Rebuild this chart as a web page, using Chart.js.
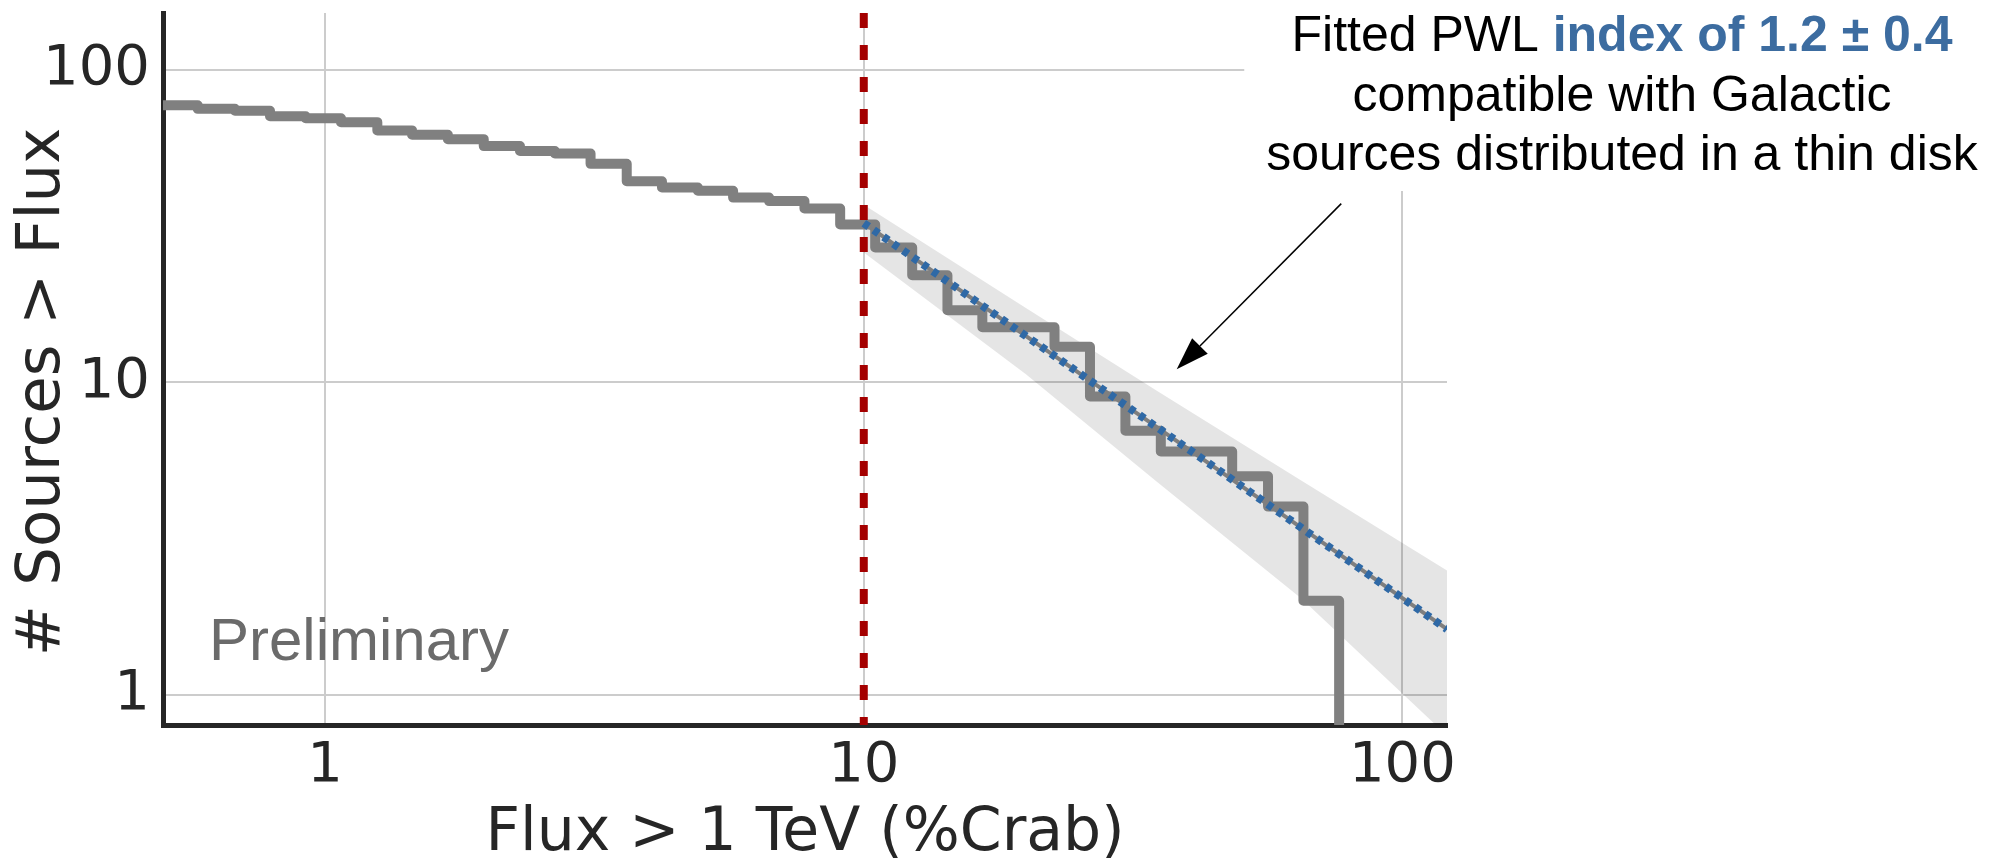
<!DOCTYPE html>
<html>
<head>
<meta charset="utf-8">
<script src="https://cdn.jsdelivr.net/npm/chart.js@4.4.1/dist/chart.umd.min.js"></script>
<style>
  html, body { margin: 0; padding: 0; background: #fff; }
  canvas { display: block; }
</style>
</head>
<body>
<canvas id="logN" width="2001" height="861"></canvas>
<script>
// logN-logS: left edges of the flux bins (% Crab) and number of sources above each edge
const binEdges = [0.5, 0.58, 0.68, 0.79, 0.92, 1.07, 1.25, 1.45, 1.69, 1.97, 2.3, 2.67,
  3.11, 3.63, 4.22, 4.92, 5.72, 6.67, 7.76, 9.04, 10.5, 12.3, 14.3, 16.6, 19.4, 22.6,
  26.3, 30.6, 35.6, 41.5, 48.3, 56.3, 65.5, 76.3];
const countsAbove = [77, 75, 74, 71, 70, 68, 64, 62, 60, 57, 55, 54, 50, 44, 42, 41, 39,
  38, 36, 32, 27, 22, 17, 15, 15, 13, 9, 7, 6, 6, 5, 4, 2, 0];

// power-law fit above the completeness threshold
const fitStart = 10;
const fitIndex = 1.2;
const fitNorm = 32.3;

// 1 sigma band of the fit
const bandFlux = [10, 20, 35, 65, 121];
const bandUpper = [37, 17.3, 9.4, 4.84, 2.5];
const bandLower = [26, 10.6, 4.8, 2.03, 0.74];

const xRange = [0.5, 121];
const yRange = [0.8, 152];
const xTicks = [1, 10, 100];
const yTicks = [1, 10, 100];

const ink = '#262626';
const noteBlue = '#3c6ca0';

const fitPoints = [fitStart, xRange[1]].map(f => ({ x: f, y: fitNorm * Math.pow(f / fitStart, -fitIndex) }));
// empty bins can't sit on a log axis, they drop to the axis floor
const steps = binEdges.map((x, i) => ({ x, y: Math.max(countsAbove[i], yRange[0]) }));

// text block + arrow on the right, "Preliminary" tag and the y title
const noteLines = [
  [{ text: 'Fitted PWL ' }, { text: 'index of 1.2 \u00b1 0.4', bold: true, color: noteBlue }],
  [{ text: 'compatible with Galactic' }],
  [{ text: 'sources distributed in a thin disk' }]
];
const noteCenterX = 1622;
const noteFirstBaseline = 51;
const noteLeading = 59.5;
const noteFont = '"Liberation Sans", Arial, sans-serif';
const arrowFrom = { x: 77, y: 37.3 };
const arrowTo = { x: 38.1, y: 11.0 };

function partFont(p) {
  return (p.bold ? 'bold ' : '') + '50px ' + noteFont;
}

function lineWidth(ctx, parts) {
  return parts.reduce((w, p) => { ctx.font = partFont(p); return w + ctx.measureText(p.text).width; }, 0);
}

const annotations = {
  id: 'annotations',
  beforeDatasetsDraw(chart) {
    // the note sits on a white box that hides the grid behind it
    const ctx = chart.ctx;
    const widest = Math.max(...noteLines.map(l => lineWidth(ctx, l)));
    const left = noteCenterX - widest / 2 - 22;
    const bottom = noteFirstBaseline + noteLeading * (noteLines.length - 1) + 21;
    ctx.save();
    ctx.fillStyle = '#fff';
    ctx.fillRect(left, 0, chart.width - left, bottom);
    ctx.restore();
  },
  afterDraw(chart) {
    const ctx = chart.ctx;
    const xs = chart.scales.x, ys = chart.scales.y, area = chart.chartArea;
    ctx.save();

    // note text
    ctx.textBaseline = 'alphabetic';
    ctx.textAlign = 'left';
    noteLines.forEach((parts, i) => {
      let x = noteCenterX - lineWidth(ctx, parts) / 2;
      const y = noteFirstBaseline + i * noteLeading;
      parts.forEach(p => {
        ctx.font = partFont(p);
        ctx.fillStyle = p.color || '#000';
        ctx.fillText(p.text, x, y);
        x += ctx.measureText(p.text).width;
      });
    });

    // arrow pointing at the fit
    const x0 = xs.getPixelForValue(arrowFrom.x), y0 = ys.getPixelForValue(arrowFrom.y);
    const x1 = xs.getPixelForValue(arrowTo.x), y1 = ys.getPixelForValue(arrowTo.y);
    const ang = Math.atan2(y1 - y0, x1 - x0);
    const headLen = 33, headHalf = 11;
    const bx = x1 - headLen * Math.cos(ang), by = y1 - headLen * Math.sin(ang);
    ctx.strokeStyle = '#000';
    ctx.lineWidth = 1.5;
    ctx.beginPath();
    ctx.moveTo(x0, y0);
    ctx.lineTo(bx, by);
    ctx.stroke();
    ctx.fillStyle = '#000';
    ctx.beginPath();
    ctx.moveTo(x1, y1);
    ctx.lineTo(bx + headHalf * Math.sin(ang), by - headHalf * Math.cos(ang));
    ctx.lineTo(bx - headHalf * Math.sin(ang), by + headHalf * Math.cos(ang));
    ctx.closePath();
    ctx.fill();

    // preliminary tag
    ctx.font = '60px ' + noteFont;
    ctx.fillStyle = '#6b6b6b';
    ctx.fillText('Preliminary', area.left + 46, area.bottom - 65);

    // y axis title
    ctx.translate(59, 392);
    ctx.rotate(-Math.PI / 2);
    ctx.font = '61px "DejaVu Sans"';
    ctx.fillStyle = ink;
    ctx.textAlign = 'center';
    ctx.fillText('# Sources > Flux', 0, 0);
    ctx.restore();
  }
};

const tickFont = { family: 'DejaVu Sans', size: 56 };

new Chart(document.getElementById('logN'), {
  type: 'line',
  data: {
    datasets: [
      { data: fitPoints, borderColor: '#2f69a6', borderWidth: 8, borderDash: [6, 6], order: 1 },
      { data: fitPoints, borderColor: '#7f7f7f', borderWidth: 4, order: 2 },
      { data: [{ x: fitStart, y: yRange[1] }, { x: fitStart, y: yRange[0] }],
        borderColor: '#a40000', borderWidth: 8, borderDash: [15, 17], order: 3 },
      { data: steps, borderColor: '#808080', borderWidth: 10, stepped: 'before',
        borderJoinStyle: 'round', order: 4 },
      { data: bandFlux.map((x, i) => ({ x, y: bandUpper[i] })), borderColor: 'transparent', order: 5 },
      { data: bandFlux.map((x, i) => ({ x, y: bandLower[i] })), borderColor: 'transparent',
        fill: '-1', backgroundColor: 'rgba(0,0,0,0.1)', order: 6 }
    ]
  },
  options: {
    responsive: false,
    animation: false,
    elements: { point: { radius: 0 }, line: { tension: 0, fill: false } },
    layout: { padding: { left: 0, right: 554, top: 13, bottom: 0 } },
    plugins: { legend: { display: false }, tooltip: { enabled: false } },
    scales: {
      x: {
        type: 'logarithmic',
        min: xRange[0],
        max: xRange[1],
        afterBuildTicks: s => { s.ticks = xTicks.map(value => ({ value })); },
        afterFit: s => { s.height = 136; s.paddingLeft = 0; s.paddingRight = 0; },
        ticks: { callback: v => String(v), font: tickFont, color: ink, padding: 8, maxRotation: 0 },
        grid: { color: '#cccccc', lineWidth: 2, drawTicks: false },
        border: { color: ink, width: 5 },
        title: { display: true, text: 'Flux > 1 TeV (%Crab)', color: ink,
          font: { family: 'DejaVu Sans', size: 60, lineHeight: 0.9 }, padding: { top: 0, bottom: 0 } }
      },
      y: {
        type: 'logarithmic',
        min: yRange[0],
        max: yRange[1],
        afterBuildTicks: s => { s.ticks = yTicks.map(value => ({ value })); },
        afterFit: s => { s.width = 163; s.paddingTop = 0; s.paddingBottom = 0; },
        ticks: { callback: v => String(v), font: tickFont, color: ink, padding: 13 },
        grid: { color: '#cccccc', lineWidth: 2, drawTicks: false },
        border: { color: ink, width: 5 }
      }
    }
  },
  plugins: [annotations]
});
</script>
</body>
</html>
